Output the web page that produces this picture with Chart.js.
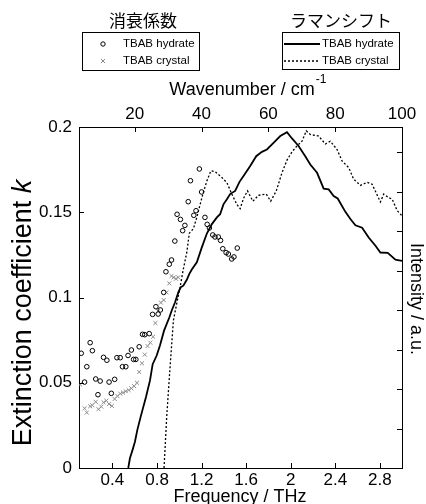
<!DOCTYPE html>
<html lang="ja">
<head>
  <meta charset="UTF-8" />
  <title>消衰係数とラマンシフト</title>
  <script src="https://cdn.jsdelivr.net/npm/chart.js"></script>
  <style>
    html, body { margin: 0; padding: 0; background: #fff; }
    #wrap { width: 426px; height: 504px; position: relative; }
  </style>
</head>
<body>
  <div id="wrap"><canvas id="chart"></canvas></div>

  <script>
    // 消衰係数 (THz, k)
    const hydrateKFreq = [0.12, 0.15, 0.17, 0.20, 0.22, 0.25, 0.27, 0.29, 0.32, 0.35, 0.37, 0.39, 0.42, 0.44, 0.47, 0.49, 0.52, 0.54, 0.57, 0.59, 0.61, 0.64, 0.67, 0.69, 0.73, 0.76, 0.79, 0.81, 0.83, 0.86, 0.88, 0.91, 0.93, 0.96, 0.98, 1.01, 1.03, 1.05, 1.08, 1.10, 1.13, 1.15, 1.18, 1.20, 1.23, 1.25, 1.27, 1.30, 1.32, 1.35, 1.37, 1.39, 1.42, 1.44, 1.47, 1.49, 1.52];
    const hydrateK = [0.0673, 0.0504, 0.0594, 0.0735, 0.0688, 0.0522, 0.0430, 0.0510, 0.0649, 0.0632, 0.0504, 0.0438, 0.0520, 0.0647, 0.0647, 0.0594, 0.0594, 0.0660, 0.0692, 0.0637, 0.0637, 0.0711, 0.0784, 0.0782, 0.0788, 0.0901, 0.0946, 0.0903, 0.0927, 0.1030, 0.1151, 0.1195, 0.1220, 0.1331, 0.1488, 0.1458, 0.1392, 0.1423, 0.1562, 0.1685, 0.1482, 0.1509, 0.1754, 0.1619, 0.1470, 0.1429, 0.1408, 0.1367, 0.1355, 0.1355, 0.1335, 0.1286, 0.1263, 0.1255, 0.1226, 0.1238, 0.1290];

    const crystalKFreq = [0.11, 0.15, 0.17, 0.20, 0.22, 0.25, 0.275, 0.30, 0.32, 0.345, 0.37, 0.395, 0.42, 0.445, 0.47, 0.495, 0.52, 0.545, 0.57, 0.595, 0.62, 0.64, 0.665, 0.69, 0.715, 0.74, 0.765, 0.785, 0.81, 0.835, 0.86, 0.885, 0.91, 0.93, 0.95, 0.97, 0.99];
    const crystalK = [0.049, 0.035, 0.0325, 0.0362, 0.0368, 0.0388, 0.0345, 0.036, 0.0385, 0.0395, 0.0375, 0.0364, 0.0405, 0.0422, 0.0436, 0.0442, 0.045, 0.0457, 0.0467, 0.048, 0.050, 0.0563, 0.0614, 0.0665, 0.0715, 0.0735, 0.077, 0.085, 0.092, 0.097, 0.0985, 0.103, 0.1083, 0.1126, 0.1118, 0.111, 0.1118];

    // ラマンシフト (THz, a.u.)
    const ramanHydrateFreq = [0.542, 0.557, 0.582, 0.602, 0.623, 0.653, 0.701, 0.737, 0.761, 0.797, 0.827, 0.863, 0.911, 0.932, 0.962, 0.991, 1.013, 1.036, 1.067, 1.090, 1.112, 1.157, 1.202, 1.247, 1.292, 1.337, 1.366, 1.396, 1.427, 1.456, 1.501, 1.540, 1.576, 1.636, 1.690, 1.741, 1.786, 1.845, 1.906, 1.966, 2.011, 2.070, 2.130, 2.175, 2.236, 2.295, 2.340, 2.385, 2.421, 2.490, 2.535, 2.580, 2.640, 2.699, 2.760, 2.804, 2.870, 2.939, 2.998];
    const ramanHydrate = [0, 0.245, 0.472, 0.664, 0.96, 1.295, 1.80, 2.22, 2.63, 2.85, 3.11, 3.48, 3.82, 3.99, 4.20, 4.45, 4.58, 4.62, 4.77, 4.92, 5.03, 5.21, 5.59, 5.94, 6.18, 6.35, 6.43, 6.68, 6.81, 6.94, 7.02, 7.25, 7.40, 7.65, 7.90, 8.01, 8.07, 8.24, 8.41, 8.51, 8.35, 8.16, 7.90, 7.69, 7.48, 7.08, 7.06, 6.89, 6.83, 6.49, 6.31, 6.15, 6.09, 5.84, 5.63, 5.46, 5.45, 5.28, 5.25];

    const ramanCrystalFreq = [0.863, 0.887, 0.917, 0.947, 0.977, 1.007, 1.036, 1.067, 1.090, 1.126, 1.157, 1.187, 1.211, 1.247, 1.283, 1.321, 1.382, 1.427, 1.471, 1.516, 1.546, 1.576, 1.612, 1.660, 1.711, 1.780, 1.820, 1.870, 1.921, 1.966, 2.011, 2.056, 2.101, 2.139, 2.175, 2.250, 2.310, 2.355, 2.415, 2.460, 2.520, 2.564, 2.625, 2.685, 2.730, 2.804, 2.834, 2.879, 2.910, 2.955, 2.998];
    const ramanCrystal = [0, 1.30, 2.56, 3.74, 4.17, 4.58, 5.04, 5.46, 5.95, 6.06, 6.35, 6.68, 6.94, 7.27, 7.53, 7.51, 7.36, 7.23, 6.94, 6.68, 6.57, 6.83, 7.02, 6.76, 6.91, 6.94, 6.76, 7.02, 7.48, 7.80, 8.01, 8.16, 8.28, 8.54, 8.45, 8.41, 8.21, 8.28, 8.07, 7.78, 7.61, 7.32, 7.16, 7.24, 7.19, 6.74, 6.94, 6.85, 6.81, 6.52, 6.39];

    const CM_PER_THZ = 33.356;
    const FONT = '"Liberation Sans", Arial, sans-serif';
    const CJK = '"Noto Sans CJK JP", sans-serif';

    const pts = (xs, ys) => xs.map((x, i) => ({ x, y: ys[i] }));

    // 目盛りを内側に描く
    const innerTicks = {
      id: 'innerTicks',
      afterDatasetsDraw(chart) {
        const { ctx, chartArea: a, scales } = chart;
        const len = 5;
        ctx.save();
        ctx.strokeStyle = '#000';
        ctx.lineWidth = 1;
        ctx.beginPath();
        scales.x.ticks.forEach(t => {
          const p = Math.round(scales.x.getPixelForValue(t.value)) + 0.5;
          ctx.moveTo(p, a.bottom); ctx.lineTo(p, a.bottom - len);
        });
        scales.xTop.ticks.forEach(t => {
          const p = Math.round(scales.xTop.getPixelForValue(t.value)) + 0.5;
          ctx.moveTo(p, a.top); ctx.lineTo(p, a.top + len);
        });
        scales.y.ticks.forEach(t => {
          const p = Math.round(scales.y.getPixelForValue(t.value)) + 0.5;
          ctx.moveTo(a.left, p); ctx.lineTo(a.left + len, p);
        });
        scales.yR.ticks.forEach(t => {
          const p = Math.round(scales.yR.getPixelForValue(t.value)) + 0.5;
          ctx.moveTo(a.right, p); ctx.lineTo(a.right - len, p);
        });
        ctx.stroke();
        ctx.restore();
      }
    };

    // 軸タイトルと凡例
    const labels = {
      id: 'labels',
      afterDraw(chart) {
        const ctx = chart.ctx;
        ctx.save();
        ctx.fillStyle = '#000';
        ctx.textBaseline = 'middle';

        // 凡例タイトル
        ctx.textAlign = 'center';
        ctx.font = '17px ' + CJK;
        ctx.fillText('消衰係数', 143, 21);
        ctx.fillText('ラマンシフト', 341, 21);

        // 凡例の枠
        ctx.strokeStyle = '#000';
        ctx.lineWidth = 1;
        ctx.strokeRect(82.5, 32.5, 117, 38);
        ctx.strokeRect(282.5, 32.5, 117, 37);

        ctx.textAlign = 'left';
        ctx.font = '11.5px ' + FONT;
        ctx.fillText('TBAB hydrate', 123, 44);
        ctx.fillText('TBAB crystal', 123, 61);
        ctx.fillText('TBAB hydrate', 322, 44);
        ctx.fillText('TBAB crystal', 322, 61);

        // 記号
        ctx.beginPath();
        ctx.arc(103, 44, 2.2, 0, Math.PI * 2);
        ctx.stroke();
        ctx.strokeStyle = '#888';
        ctx.beginPath();
        ctx.moveTo(101, 59); ctx.lineTo(105, 63);
        ctx.moveTo(105, 59); ctx.lineTo(101, 63);
        ctx.stroke();

        ctx.strokeStyle = '#000';
        ctx.lineWidth = 1.8;
        ctx.beginPath();
        ctx.moveTo(284, 44); ctx.lineTo(320, 44);
        ctx.stroke();
        ctx.lineWidth = 1.3;
        ctx.setLineDash([2, 2]);
        ctx.beginPath();
        ctx.moveTo(284, 61); ctx.lineTo(320, 61);
        ctx.stroke();
        ctx.setLineDash([]);

        // 上軸タイトル
        ctx.font = '18px ' + FONT;
        const wTitle = 'Wavenumber / cm';
        const w = ctx.measureText(wTitle).width;
        const x0 = 242 - w / 2;
        ctx.fillText(wTitle, x0, 90);
        ctx.font = '12px ' + FONT;
        ctx.fillText('-1', x0 + w + 1, 80);

        // 下軸タイトル
        ctx.textAlign = 'center';
        ctx.font = '18px ' + FONT;
        ctx.fillText('Frequency / THz', 240, 497);

        // 左軸タイトル
        ctx.save();
        ctx.translate(31, 313);
        ctx.rotate(-Math.PI / 2);
        ctx.textAlign = 'left';
        ctx.textBaseline = 'alphabetic';
        const t1 = 'Extinction coefficient ';
        ctx.font = '27px ' + FONT;
        const w1 = ctx.measureText(t1).width;
        ctx.font = 'italic 27px ' + FONT;
        const w2 = ctx.measureText('k').width;
        ctx.font = '27px ' + FONT;
        ctx.fillText(t1, -(w1 + w2) / 2, 0);
        ctx.font = 'italic 27px ' + FONT;
        ctx.fillText('k', -(w1 + w2) / 2 + w1, 0);
        ctx.restore();

        // 右軸タイトル
        ctx.save();
        ctx.translate(416, 299);
        ctx.rotate(Math.PI / 2);
        ctx.textAlign = 'center';
        ctx.font = '18px ' + FONT;
        ctx.fillText('Intensity / a.u.', 0, 0);
        ctx.restore();

        ctx.restore();
      }
    };

    const tickFont = { family: FONT, size: 17 };
    const fmt = v => String(+v.toFixed(2));
    const noGrid = { display: false, drawTicks: false, tickLength: 0 };

    new Chart(document.getElementById('chart'), {
      type: 'scatter',
      data: {
        datasets: [
          {
            label: 'TBAB hydrate (k)',
            data: pts(hydrateKFreq, hydrateK),
            pointStyle: 'circle',
            pointRadius: 2.3,
            borderColor: '#000',
            backgroundColor: 'rgba(0,0,0,0)',
            borderWidth: 1,
            yAxisID: 'y'
          },
          {
            label: 'TBAB crystal (k)',
            data: pts(crystalKFreq, crystalK),
            pointStyle: 'crossRot',
            pointRadius: 2.8,
            borderColor: '#8a8a8a',
            borderWidth: 1,
            yAxisID: 'y'
          },
          {
            label: 'TBAB hydrate (Raman)',
            data: pts(ramanHydrateFreq, ramanHydrate),
            showLine: true,
            pointRadius: 0,
            borderColor: '#000',
            borderWidth: 1.8,
            yAxisID: 'yR'
          },
          {
            label: 'TBAB crystal (Raman)',
            data: pts(ramanCrystalFreq, ramanCrystal),
            showLine: true,
            pointRadius: 0,
            borderColor: '#000',
            borderWidth: 1.3,
            borderDash: [2, 2],
            yAxisID: 'yR'
          }
        ]
      },
      options: {
        responsive: true,
        maintainAspectRatio: false,
        animation: false,
        layout: { padding: 0 },
        plugins: { legend: { display: false }, tooltip: { enabled: false } },
        scales: {
          x: {
            type: 'linear', position: 'bottom',
            min: 0.1, max: 100 / CM_PER_THZ,
            grid: noGrid,
            border: { display: true, color: '#000', width: 1 },
            ticks: { stepSize: 0.4, includeBounds: false, color: '#000', font: tickFont, padding: 2, maxRotation: 0, callback: fmt },
            afterFit(s) { s.height = 36; }
          },
          xTop: {
            type: 'linear', position: 'top',
            min: 0.1 * CM_PER_THZ, max: 100,
            grid: noGrid,
            border: { display: true, color: '#000', width: 1 },
            ticks: { stepSize: 20, includeBounds: false, color: '#000', font: tickFont, padding: 2, maxRotation: 0 },
            afterFit(s) { s.height = 127; }
          },
          y: {
            type: 'linear', position: 'left',
            min: 0, max: 0.2,
            grid: noGrid,
            border: { display: true, color: '#000', width: 1 },
            ticks: { stepSize: 0.05, color: '#000', font: tickFont, padding: 7, callback: fmt },
            afterFit(s) { s.width = 79; }
          },
          yR: {
            type: 'linear', position: 'right',
            min: 0, max: 8.64,
            grid: noGrid,
            border: { display: true, color: '#000', width: 1 },
            ticks: { stepSize: 1, includeBounds: false, display: false },
            afterFit(s) { s.width = 24; }
          }
        }
      },
      plugins: [innerTicks, labels]
    });
  </script>
</body>
</html>
